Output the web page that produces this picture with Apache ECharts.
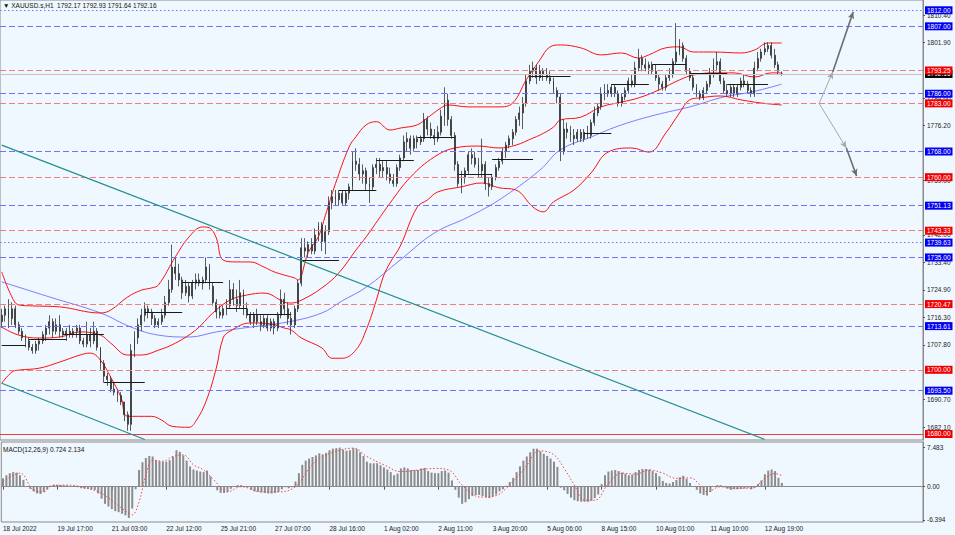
<!DOCTYPE html>
<html><head><meta charset="utf-8">
<script src="https://cdn.jsdelivr.net/npm/echarts@6.0.0/dist/echarts.min.js"></script>
<style>html,body{margin:0;padding:0;background:#F0F8FF;}#c{width:955px;height:535px;}</style>
</head><body><div id="c"></div>
<script>
// ---------------- DATA ----------------
const xLabels = ["18 Jul 2022","19 Jul 17:00","21 Jul 03:00","22 Jul 12:00","25 Jul 21:00","27 Jul 07:00","28 Jul 16:00","1 Aug 02:00","2 Aug 11:00","3 Aug 20:00","5 Aug 06:00","8 Aug 15:00","10 Aug 01:00","11 Aug 10:00","12 Aug 19:00"];
const priceTicks = [1682.10,1690.70,1707.80,1716.30,1724.90,1733.40,1742.00,1759.00,1776.20,1784.60,1801.90,1810.40];
const macdTicks = [-6.394, 0, 7.483];
// [open, high, low, close]
const ohlc = [
[1715,1719,1713,1717],[1717,1720,1715,1719],[1719,1722,1713,1716],[1716,1721,1714,1719],[1719,1720,1713,1714],
[1714,1715,1711,1712],[1712,1713,1709,1710],[1710,1711,1707,1709],[1709,1710,1706,1707],[1707,1708,1705,1706],
[1706,1709,1705,1708],[1708,1710,1706,1709],[1709,1712,1708,1711],[1711,1714,1709,1713],[1713,1717,1711,1715],
[1715,1716,1710,1712],[1712,1716,1711,1714],[1714,1717,1710,1712],[1712,1713,1710,1711],[1711,1713,1709,1712],
[1712,1714,1710,1711],[1711,1713,1710,1712],[1712,1714,1710,1713],[1713,1714,1708,1709],[1709,1710,1707,1708],
[1708,1715,1707,1711],[1711,1713,1707,1709],[1709,1715,1708,1712],[1712,1713,1706,1707],[1707,1707,1700,1702],
[1702,1703,1696,1698],[1698,1699,1695,1697],[1697,1698,1693,1694],[1694,1696,1692,1693],[1693,1694,1690,1692],
[1692,1693,1689,1690],[1690,1690,1684,1686],[1686,1687,1681,1683],[1683,1708,1681,1706],[1706,1712,1704,1710],
[1710,1716,1708,1714],[1714,1719,1712,1717],[1717,1721,1715,1719],[1719,1720,1716,1718],[1718,1719,1714,1716],
[1716,1717,1713,1714],[1714,1716,1713,1715],[1715,1719,1714,1717],[1717,1723,1716,1721],[1721,1728,1720,1725],
[1725,1739,1724,1732],[1732,1735,1728,1730],[1730,1733,1726,1728],[1728,1729,1722,1724],[1724,1728,1723,1726],
[1726,1727,1721,1723],[1723,1728,1722,1727],[1727,1730,1725,1728],[1728,1730,1726,1727],[1727,1729,1725,1728],
[1728,1735,1727,1732],[1732,1733,1725,1726],[1726,1727,1720,1721],[1721,1722,1716,1718],[1718,1720,1716,1717],
[1717,1720,1716,1719],[1719,1722,1717,1720],[1720,1728,1719,1725],[1725,1727,1720,1722],[1722,1725,1718,1720],
[1720,1728,1719,1724],[1724,1725,1717,1719],[1719,1721,1716,1717],[1717,1718,1714,1715],[1715,1718,1713,1717],
[1717,1719,1714,1715],[1715,1717,1712,1714],[1714,1717,1713,1716],[1716,1717,1712,1713],[1713,1716,1712,1715],
[1715,1716,1711,1713],[1713,1718,1712,1717],[1717,1725,1716,1722],[1722,1724,1717,1719],[1719,1721,1714,1716],
[1716,1718,1711,1714],[1714,1720,1713,1719],[1719,1728,1718,1727],[1727,1741,1726,1738],[1738,1741,1735,1737],
[1737,1740,1735,1739],[1739,1741,1736,1737],[1737,1744,1736,1742],[1742,1746,1740,1745],[1745,1746,1737,1740],
[1740,1745,1736,1743],[1743,1754,1742,1752],[1752,1756,1750,1754],[1754,1756,1751,1753],[1753,1756,1751,1755],
[1755,1756,1751,1752],[1752,1756,1751,1755],[1755,1758,1753,1757],[1757,1768,1756,1765],[1765,1769,1762,1764],
[1764,1766,1759,1761],[1761,1764,1758,1762],[1762,1763,1756,1758],[1758,1760,1752,1757],[1757,1764,1756,1763],
[1763,1766,1761,1764],[1764,1766,1760,1762],[1762,1765,1760,1763],[1763,1765,1759,1761],[1761,1763,1758,1759],
[1759,1761,1757,1758],[1758,1764,1757,1763],[1763,1767,1762,1766],[1766,1773,1765,1771],[1771,1774,1768,1772],
[1772,1773,1767,1769],[1769,1773,1768,1772],[1772,1773,1769,1771],[1771,1773,1770,1772],[1772,1780,1771,1778],
[1778,1779,1773,1775],[1775,1777,1772,1773],[1773,1775,1770,1772],[1772,1776,1771,1774],[1774,1781,1773,1779],
[1779,1788,1776,1784],[1784,1786,1776,1778],[1778,1779,1772,1773],[1773,1774,1762,1764],[1764,1765,1757,1758],
[1758,1762,1755,1760],[1760,1763,1758,1762],[1762,1768,1761,1767],[1767,1769,1764,1766],[1766,1768,1763,1764],
[1764,1766,1760,1762],[1762,1772,1760,1764],[1764,1765,1756,1758],[1758,1760,1754,1757],[1757,1761,1756,1760],
[1760,1764,1759,1763],[1763,1766,1762,1765],[1765,1769,1764,1768],[1768,1771,1766,1770],[1770,1773,1769,1772],
[1772,1775,1770,1774],[1774,1779,1773,1778],[1778,1782,1776,1780],[1780,1785,1775,1783],[1783,1792,1782,1790],
[1790,1795,1789,1793],[1793,1796,1791,1794],[1794,1795,1789,1791],[1791,1795,1790,1793],[1793,1794,1790,1792],
[1792,1794,1790,1791],[1791,1793,1789,1790],[1790,1791,1786,1787],[1787,1788,1783,1785],[1785,1786,1765,1768],
[1768,1778,1767,1775],[1775,1777,1772,1774],[1774,1776,1771,1773],[1773,1775,1770,1772],[1772,1775,1771,1774],
[1774,1775,1771,1772],[1772,1775,1771,1774],[1774,1776,1772,1773],[1773,1778,1772,1777],[1777,1782,1776,1780],
[1780,1783,1779,1782],[1782,1788,1781,1786],[1786,1789,1784,1787],[1787,1789,1785,1786],[1786,1789,1785,1788],
[1788,1789,1785,1786],[1786,1787,1782,1783],[1783,1786,1782,1785],[1785,1788,1784,1787],[1787,1791,1786,1790],
[1790,1792,1788,1789],[1789,1796,1788,1794],[1794,1800,1793,1797],[1797,1798,1793,1795],[1795,1797,1793,1794],
[1794,1796,1792,1795],[1795,1796,1792,1793],[1793,1795,1790,1791],[1791,1792,1787,1789],[1789,1790,1787,1788],
[1788,1792,1787,1791],[1791,1794,1790,1792],[1792,1797,1791,1796],[1796,1808,1795,1799],[1799,1803,1798,1801],
[1801,1802,1796,1797],[1797,1798,1792,1793],[1793,1794,1790,1791],[1791,1792,1787,1788],[1788,1789,1785,1786],
[1786,1787,1784,1785],[1785,1788,1784,1787],[1787,1790,1786,1789],[1789,1794,1788,1792],[1792,1797,1791,1795],
[1795,1799,1793,1796],[1796,1797,1789,1790],[1790,1791,1786,1787],[1787,1789,1785,1786],[1786,1789,1785,1788],
[1788,1789,1785,1786],[1786,1789,1785,1788],[1788,1791,1787,1790],[1790,1792,1788,1789],[1789,1790,1786,1787],
[1787,1788,1785,1786],[1786,1796,1785,1794],[1794,1799,1793,1797],[1797,1800,1796,1799],[1799,1802,1798,1800],
[1800,1802,1799,1801],[1801,1802,1797,1798],[1798,1800,1794,1795],[1795,1796,1792,1793],[1792.17,1792.93,1791.64,1792.16]
];
const macdHist = [
1.6,2.2,2.6,2.8,2.7,2.2,1.3,0.0,-0.4,-0.9,
-1.3,-1.4,-1.0,-0.5,0.2,0.4,0.4,0.3,0.3,0.2,
0.1,0.0,-0.1,-0.3,-0.4,-0.45,-0.5,-0.6,-1.3,-2.3,
-3.3,-3.8,-4.3,-4.7,-4.9,-5.2,-5.5,-6.0,-4.2,-0.5,
3.2,4.7,5.5,5.9,5.8,5.1,4.9,4.8,4.8,5.1,
5.8,7.0,6.7,6.0,5.0,3.9,3.3,3.1,2.9,2.8,
3.1,2.0,0.1,-0.7,-1.2,-1.2,-1.0,-0.4,0.1,0.3,
0.3,0.1,-0.1,-0.6,-0.9,-1.0,-1.1,-1.2,-1.3,-1.3,
-1.2,-1.0,-0.5,-0.1,-0.3,-0.1,1.0,2.6,4.2,5.0,
5.4,5.7,6.0,6.4,6.2,6.5,7.0,7.3,7.4,7.5,
7.1,6.9,7.0,7.4,7.2,6.6,5.9,4.8,4.5,4.5,
4.5,4.1,3.7,3.3,2.8,2.2,2.5,3.5,3.7,3.5,
3.2,3.2,3.2,3.5,3.6,3.0,2.7,2.6,2.6,3.0,
3.1,2.7,1.2,-0.6,-2.1,-3.3,-3.0,-2.4,-1.8,-1.6,
-1.6,-1.8,-2.0,-2.2,-1.9,-1.5,-0.9,-0.5,0.2,0.9,
1.7,2.8,3.9,5.0,5.8,6.6,7.3,7.3,6.8,6.3,
5.9,5.4,4.8,3.8,-0.2,-0.7,-1.4,-2.1,-2.6,-2.8,
-2.9,-2.9,-2.9,-2.7,-2.2,-1.5,0.5,2.2,2.9,3.1,
3.2,3.0,2.7,2.5,2.2,2.3,2.8,3.2,3.4,3.4,
3.3,3.0,2.6,2.0,1.1,0.7,0.6,0.9,1.3,1.8,
2.1,1.5,0.7,0.0,-0.6,-1.3,-1.6,-1.7,-1.0,0.0,
0.3,0.3,-0.1,-0.4,-0.6,-0.5,-0.5,-0.45,-0.35,-0.2,
-0.5,-0.2,0.5,1.2,2.4,3.1,3.3,3.0,1.7,0.724
];
// [bar, value]
const macdSignal = [[0,1.0],[5,2.6],[9,-0.7],[12,-1.0],[14,0.1],[19,0.3],[24,-0.2],[29,-1.3],[33,-3.2],[37,-5.1],[38,-5.4],[40,-2.9],[42,2.2],[44,5.1],[47,4.9],[50,5.8],[53,6.1],[56,4.2],[59,3.2],[62,1.3],[66,-1.0],[70,0],[76,-1.0],[81,-1.0],[86,0],[90,3.5],[93,5.4],[97,6.6],[103,7.4],[107,5.8],[112,4.2],[117,2.9],[122,3.2],[127,3.5],[131,3.2],[135,0.3],[139,-1.8],[141,-2.0],[145,-1.7],[148,-0.3],[153,3.2],[158,6.9],[162,6.1],[165,3.5],[168,0.3],[171,-2.6],[174,-2.6],[178,0.6],[182,2.6],[186,2.4],[190,3.2],[194,2.6],[198,1.6],[202,1.7],[205,0.3],[207,-1.0],[211,0],[215,-0.3],[220,-0.3],[224,1.6],[226,2.4],[227,2.5],[229,2.134]];
const bbUpper = [[0,1730.5],[3,1722.7],[5,1720.2],[9,1719.9],[17,1719.6],[29,1717.7],[32,1718.6],[37,1722.7],[41,1724.8],[44,1725.5],[46,1726.4],[51,1735.2],[55,1741.4],[59,1744.5],[61,1744.2],[63,1741.1],[65,1734.2],[69,1733.6],[73,1733.6],[77,1732.0],[80,1730.5],[83,1729.5],[86,1728.6],[87,1728.0],[90,1736.5],[93,1741.5],[95,1748.0],[98,1758.0],[102,1769.4],[104,1772.6],[107,1776.3],[110,1777.3],[114,1774.7],[117,1775.3],[122,1776.3],[125,1778.5],[129,1781.6],[131,1782.5],[137,1781.9],[146,1781.9],[150,1783.1],[154,1790.3],[158,1796.5],[161,1800.6],[164,1801.2],[170,1800.3],[176,1798.1],[182,1798.7],[187,1797.1],[190,1798.1],[195,1800.3],[199,1800.6],[203,1799.0],[209,1799.0],[217,1798.7],[221,1799.6],[225,1801.8],[229,1801.8]];
const bbMid = [[0,1713.3],[5,1710.8],[11,1709.9],[17,1710.2],[23,1711.8],[29,1710.8],[32,1708.3],[37,1704.6],[41,1704.6],[46,1706.1],[51,1708.3],[57,1712.4],[62,1717.7],[67,1721.7],[72,1723.3],[77,1723.9],[83,1721.1],[85,1720.8],[88,1721.7],[94,1725.5],[99,1730.2],[104,1737.3],[107,1741.4],[114,1751.9],[120,1760.0],[127,1766.3],[133,1769.1],[140,1769.7],[146,1769.1],[151,1770.0],[156,1772.2],[158,1773.1],[162,1775.6],[164,1777.8],[170,1778.7],[176,1781.9],[182,1783.4],[187,1784.7],[193,1787.2],[199,1790.3],[203,1791.8],[209,1792.5],[215,1792.5],[221,1791.2],[226,1792.5],[229,1792.5]];
const bbLower = [[0,1695.8],[3,1699.3],[5,1699.9],[11,1700.5],[17,1702.4],[23,1704.6],[26,1705.2],[29,1703.0],[32,1697.7],[35,1691.5],[37,1685.5],[44,1685.5],[47,1684.3],[50,1682.4],[55,1682.1],[57,1684.0],[60,1690.2],[63,1700.5],[65,1709.9],[67,1712.0],[73,1714.6],[79,1714.3],[83,1713.0],[85,1712.4],[88,1709.9],[94,1706.8],[97,1703.6],[100,1703.6],[104,1706.2],[107,1712.4],[110,1721.7],[112,1728.9],[114,1733.3],[117,1738.5],[122,1750.7],[125,1752.9],[128,1755.4],[135,1757.0],[141,1758.2],[146,1756.7],[151,1756.0],[156,1750.7],[159,1749.2],[162,1752.3],[168,1756.0],[173,1761.3],[178,1767.8],[185,1769.1],[190,1767.8],[195,1773.8],[199,1780.0],[202,1784.1],[205,1784.7],[211,1785.3],[217,1784.1],[223,1783.1],[229,1782.5]];
const maLine = [[0,1727.4],[14,1722.7],[29,1717.7],[38,1713.3],[46,1710.8],[55,1710.2],[63,1711.8],[73,1713.3],[84,1714.9],[94,1717.7],[100,1721.5],[107,1725.7],[117,1734.2],[127,1742.6],[137,1747.6],[146,1752.9],[158,1762.2],[164,1768.5],[173,1772.5],[182,1776.3],[192,1779.4],[202,1781.9],[212,1785.0],[219,1786.3],[225,1787.8],[229,1789.0]];
const blueLevels = [1812.00,1807.00,1786.00,1768.00,1751.13,1739.63,1735.00,1713.61,1693.50];
const redLevels = [1793.25,1783.00,1760.00,1743.33,1720.47,1700.00,1680.00];
const currentPrice = 1792.16;
// [startBar, endBar, price]
const periodOpens = [[0,7,1707.6],[8,19,1709.6],[18,30,1711.0],[30,42,1696.2],[42,53,1718.0],[53,65,1727.4],[66,72,1719.3],[72,85,1717.4],[88,99,1734.2],[99,110,1756.0],[110,121,1765.3],[122,133,1772.5],[134,144,1761.0],[144,156,1765.6],[155,167,1791.3],[171,179,1773.8],[179,190,1789.0],[191,201,1795.3],[202,213,1792.5],[213,225,1789.0]];
// [startBar, startPrice, endBar, endPrice]
const trendLines = [[0,1770.0,224,1678.3],[0,1695.8,42,1678.3]];
const arrows = [[240,1783.0,244,1792.8],[244,1792.8,250,1811.5],[240,1783.0,248,1769.1],[248,1769.1,251,1760.4]];

// ---------------- LAYOUT / STYLE ----------------
const SLOTS = 271;
const cats = Array.from({length: SLOTS}, (_, i) => String(i));
const FONT = "'Liberation Sans','DejaVu Sans',sans-serif";
const BG = '#F0F8FF';
const dottedSet = new Set([1812.00, 1739.63]);

const levelItem = (v, isBlue) => {
  const solid = (!isBlue && v === 1680.00);
  return {
    yAxis: v,
    lineStyle: {
      color: isBlue ? '#7272F2' : (solid ? '#F03A3A' : '#F27D7D'),
      width: 1,
      type: dottedSet.has(v) ? [1.5, 2.5] : (solid ? 'solid' : [6, 3])
    },
    label: {
      show: true, position: 'end', distance: 2,
      formatter: p => Number(p.value).toFixed(2),
      backgroundColor: isBlue ? '#0000F0' : '#F00000',
      color: '#fff', fontSize: 6.5, fontFamily: FONT,
      padding: [1, 2, 0, 2], lineHeight: 7
    }
  };
};

const mlData = [];
mlData.push({
  yAxis: currentPrice,
  lineStyle: {color: '#C4C4C4', width: 1, type: 'solid'},
  label: {show: true, position: 'end', distance: 2, formatter: p => Number(p.value).toFixed(2),
    backgroundColor: '#000', color: '#fff', fontSize: 6.5, fontFamily: FONT, padding: [1,2,0,2], lineHeight: 7}
});
blueLevels.forEach(v => mlData.push(levelItem(v, true)));
redLevels.forEach(v => mlData.push(levelItem(v, false)));
periodOpens.forEach(s => mlData.push([
  {coord: [s[0], s[2]], lineStyle: {color: '#1a1a1a', width: 1, type: 'solid'}, label: {show: false}},
  {coord: [s[1], s[2]]}
]));
trendLines.forEach(t => mlData.push([
  {coord: [t[0], t[1]], lineStyle: {color: '#1F8F8C', width: 1.2, type: 'solid'}, label: {show: false}},
  {coord: [t[2], t[3]]}
]));
arrows.forEach((a, k) => mlData.push([
  {coord: [a[0], a[1]], symbol: 'none', lineStyle: {color: k % 2 ? '#6E6E6E' : '#A8A8A8', width: k % 2 ? 1.6 : 1, type: 'solid'}, label: {show: false}},
  {coord: [a[2], a[3]], symbol: 'arrow', symbolSize: [5, 7]}
]));

const chart = echarts.init(document.getElementById('c'), null, {renderer: 'svg'});
const candleData = ohlc.map(r => [r[0], r[3], r[2], r[1]]);
const PMIN = 1678.13, PMAX = 1815.20;

chart.setOption({
  animation: false,
  backgroundColor: BG,
  title: [
    {text: '\u25BC XAUUSD.s,H1  1792.17 1792.93 1791.64 1792.16', left: 3, top: 2, padding: 0,
     textStyle: {fontSize: 6.5, fontWeight: 'normal', color: '#111', fontFamily: FONT}},
    {text: 'MACD(12,26,9) 0.724 2.134', left: 3, top: 445.5, padding: 0,
     textStyle: {fontSize: 6.5, fontWeight: 'normal', color: '#111', fontFamily: FONT}}
  ],
  grid: [
    {left: 0, top: 0, width: 923, height: 440, show: true, borderColor: '#8a8a8a', borderWidth: 1, backgroundColor: BG},
    {left: 0, top: 442, width: 923, height: 80, show: true, borderColor: '#8a8a8a', borderWidth: 1, backgroundColor: BG}
  ],
  xAxis: [
    {type: 'category', gridIndex: 0, data: cats, boundaryGap: true,
     axisLine: {show: false}, axisTick: {show: false}, axisLabel: {show: false}, splitLine: {show: false}},
    {type: 'category', gridIndex: 1, data: cats, boundaryGap: true,
     axisLine: {show: true, lineStyle: {color: '#8a8a8a'}},
     axisTick: {show: true, alignWithLabel: true, length: 3, lineStyle: {color: '#555'},
       interval: (i) => i % 16 === 0 && i / 16 < xLabels.length},
     axisLabel: {show: true, align: 'left', margin: 3, fontSize: 6.5, color: '#222', fontFamily: FONT,
       interval: (i) => i % 16 === 0 && i / 16 < xLabels.length,
       formatter: (v, i) => xLabels[i / 16] || ''},
     splitLine: {show: false}}
  ],
  yAxis: [
    {type: 'value', gridIndex: 0, position: 'right', min: PMIN, max: PMAX,
     splitLine: {show: false},
     axisLine: {show: true, lineStyle: {color: '#8a8a8a'}},
     axisTick: {show: true, length: 2, customValues: priceTicks, lineStyle: {color: '#555'}},
     axisLabel: {show: true, customValues: priceTicks, margin: 4, fontSize: 6.5, color: '#222', fontFamily: FONT,
       formatter: v => Number(v).toFixed(2)}},
    {type: 'value', gridIndex: 1, position: 'right', min: -6.78, max: 8.58,
     splitLine: {show: false},
     axisLine: {show: true, lineStyle: {color: '#8a8a8a'}},
     axisTick: {show: true, length: 2, customValues: macdTicks, lineStyle: {color: '#555'}},
     axisLabel: {show: true, customValues: macdTicks, margin: 4, fontSize: 6.5, color: '#222', fontFamily: FONT,
       formatter: v => (v === 0 ? '0.00' : Number(v).toFixed(3))}}
  ],
  series: [
    {type: 'line', name: 'MA', xAxisIndex: 0, yAxisIndex: 0, data: maLine, smooth: 0.4, symbol: 'none',
     lineStyle: {color: '#7C7CFF', width: 1}, silent: true, z: 1},
    {type: 'line', name: 'BB upper', xAxisIndex: 0, yAxisIndex: 0, data: bbUpper, smooth: 0.4, symbol: 'none',
     lineStyle: {color: '#FF1010', width: 1}, silent: true, z: 1},
    {type: 'line', name: 'BB mid', xAxisIndex: 0, yAxisIndex: 0, data: bbMid, smooth: 0.4, symbol: 'none',
     lineStyle: {color: '#FF1010', width: 1}, silent: true, z: 1},
    {type: 'line', name: 'BB lower', xAxisIndex: 0, yAxisIndex: 0, data: bbLower, smooth: 0.4, symbol: 'none',
     lineStyle: {color: '#FF1010', width: 1}, silent: true, z: 1},
    {type: 'candlestick', name: 'XAUUSD', xAxisIndex: 0, yAxisIndex: 0, data: candleData,
     barWidth: 1.4, silent: true, z: 3,
     itemStyle: {color: '#222', color0: '#222', borderColor: '#333', borderColor0: '#333', borderWidth: 0.8},
     markLine: {silent: true, symbol: ['none', 'none'], animation: false, precision: 2, data: mlData}},
    {type: 'bar', name: 'MACD', xAxisIndex: 1, yAxisIndex: 1, data: macdHist, barWidth: 2,
     itemStyle: {color: '#8C8C8C'}, silent: true},
    {type: 'line', name: 'Signal', xAxisIndex: 1, yAxisIndex: 1, data: macdSignal, smooth: 0.4, symbol: 'none',
     lineStyle: {color: '#FF4040', width: 1, type: [1.5, 2]}, silent: true, z: 4}
  ]
});
</script>
</body></html>
